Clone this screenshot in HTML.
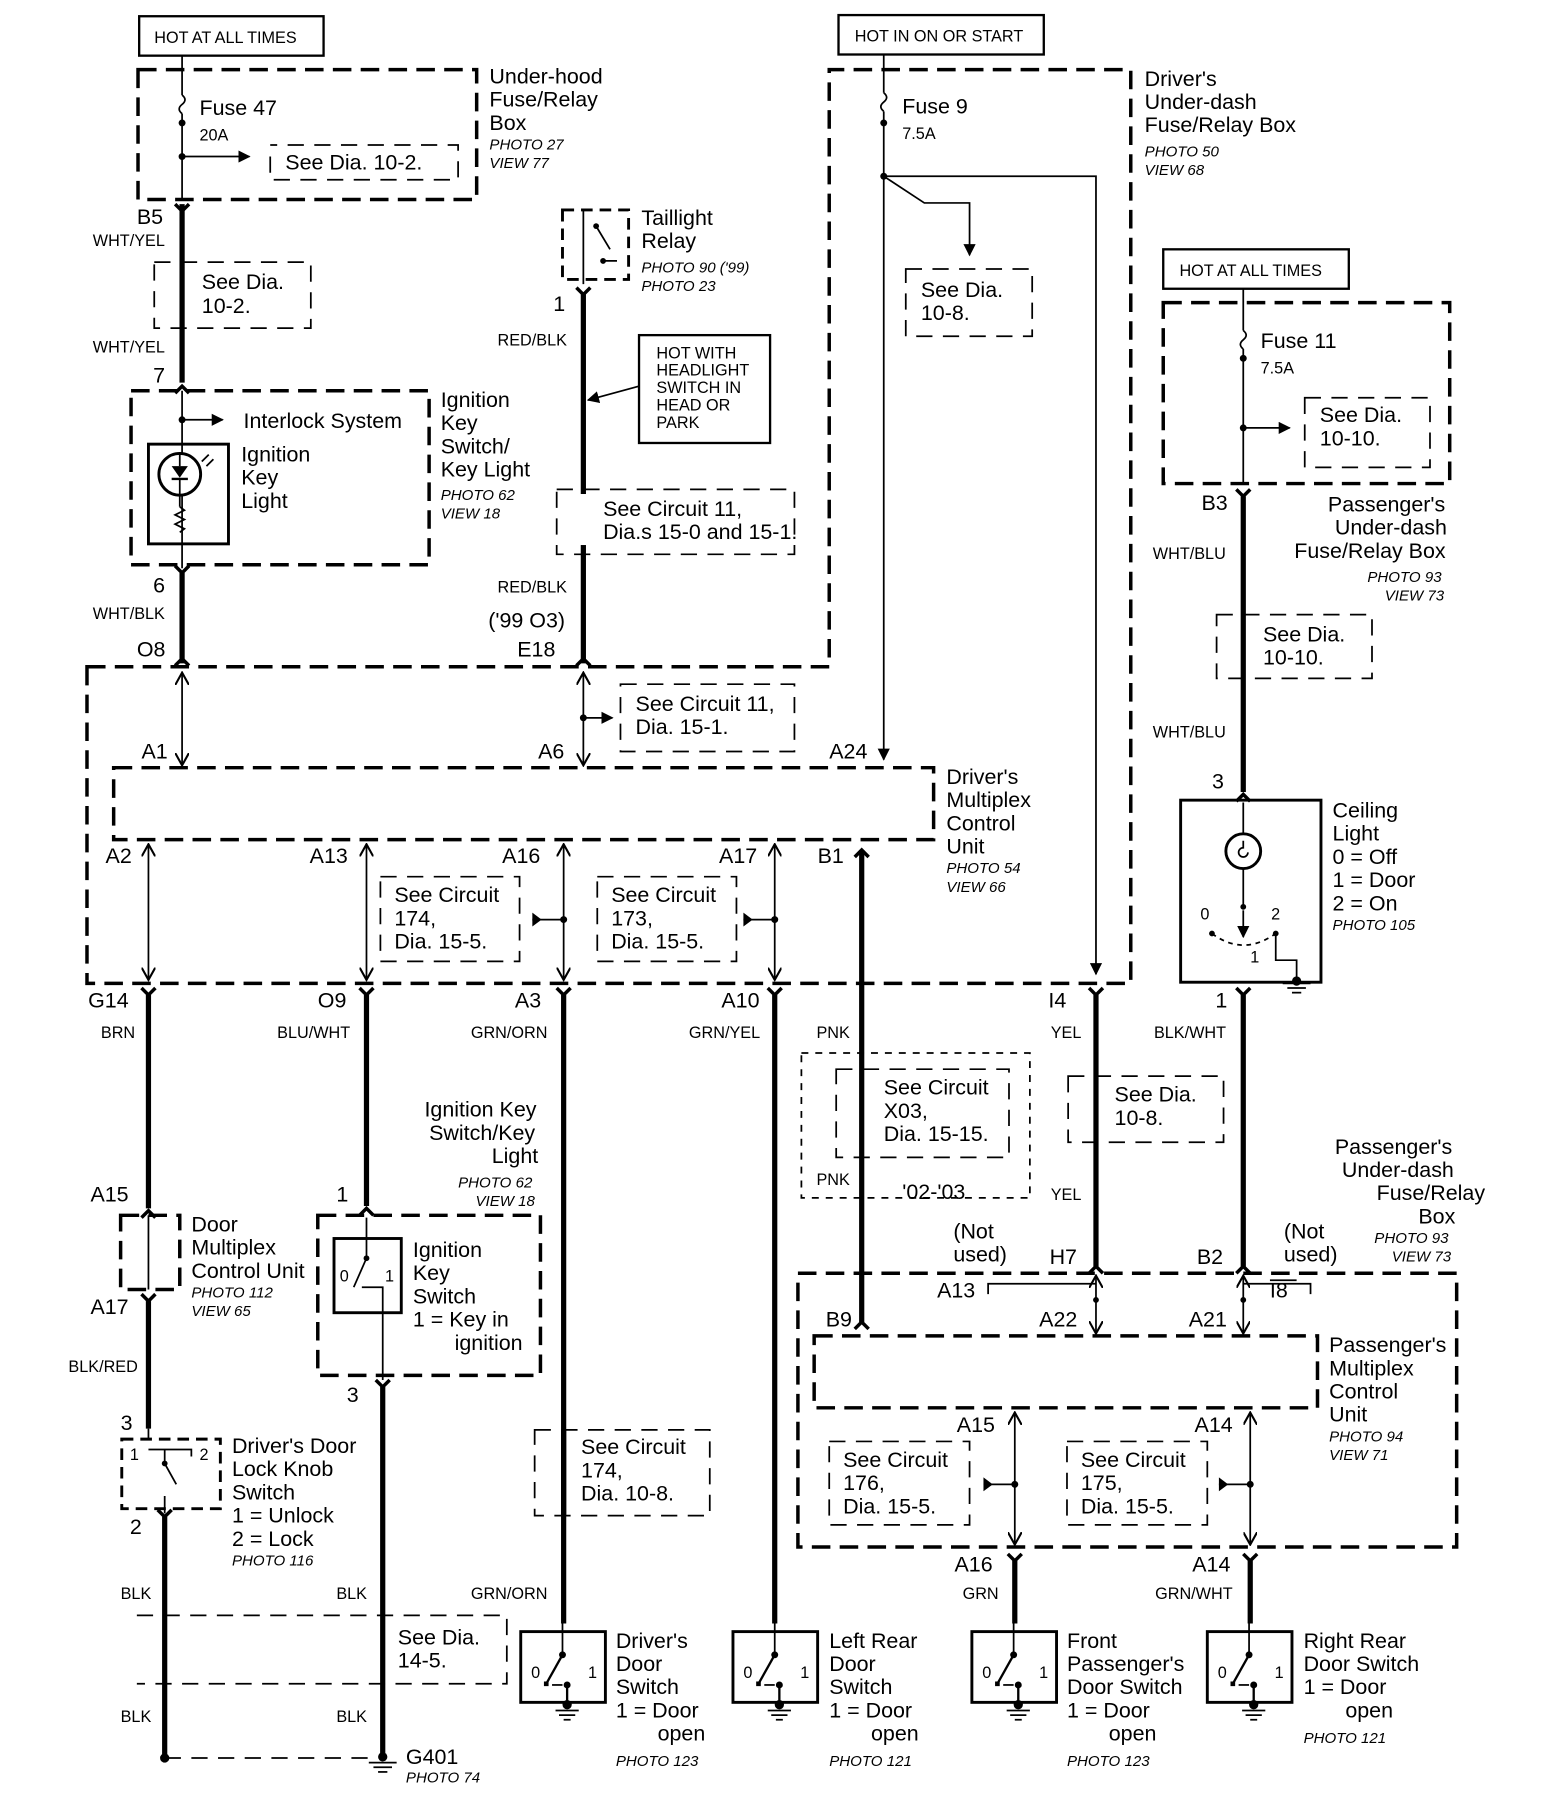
<!DOCTYPE html>
<html><head><meta charset="utf-8"><style>
html,body{margin:0;padding:0;background:#fff}
svg{display:block}
text{font-family:"Liberation Sans",Arial,sans-serif;fill:#000}
.l{font-size:18.5px}
.s{font-size:14px}
.i{font-size:13px;font-style:italic}
.tw{stroke:#000;stroke-width:4.5;fill:none}
.tn{stroke:#000;stroke-width:1.5;fill:none}
.db{stroke:#000;stroke-width:3;fill:none;stroke-dasharray:16,8}
.dt{stroke:#000;stroke-width:1.5;fill:none;stroke-dasharray:14,9}
.sb{stroke:#000;stroke-width:2.5;fill:#fff}
</style></head><body>
<svg width="1568" height="1816" viewBox="0 0 1352 1566" preserveAspectRatio="none" xmlns="http://www.w3.org/2000/svg">
<defs>
<marker id="ah" viewBox="0 0 10 10" refX="9" refY="5" markerWidth="7" markerHeight="7" orient="auto"><path d="M0,0L10,5L0,10z"/></marker>
<marker id="oa" viewBox="0 0 10 10" refX="9" refY="5" markerWidth="8" markerHeight="8" orient="auto-start-reverse"><path d="M0,0L9,5L0,10" fill="none" stroke="#000" stroke-width="1.5"/></marker>
<g id="dsw">
<rect x="0" y="0" width="73" height="61" class="sb" style="fill:none"/>
<line x1="36" y1="-8" x2="36" y2="20" class="tn"/>
<circle cx="36" cy="20" r="3"/>
<line x1="36" y1="20" x2="22" y2="45" stroke="#000" stroke-width="2"/>
<rect x="20" y="43" width="4" height="4"/>
<line x1="27" y1="46" x2="36" y2="46" class="tn"/>
<circle cx="40" cy="46" r="3"/>
<line x1="40" y1="46" x2="40" y2="64" stroke="#000" stroke-width="2"/>
<circle cx="40" cy="63" r="4"/>
<line x1="30" y1="68" x2="50" y2="68" class="tn"/>
<line x1="33" y1="72" x2="47" y2="72" class="tn"/>
<line x1="37" y1="76" x2="43" y2="76" class="tn"/>
<text x="9" y="40" class="s">0</text><text x="58" y="40" class="s">1</text>
</g>
<g id="conn"><path d="M-6,-6L0,0L6,-6" fill="none" stroke="#000" stroke-width="3"/></g>
<g id="connu"><path d="M-6,6L0,0L6,6" fill="none" stroke="#000" stroke-width="3"/></g>
</defs>

<!-- TOP LEFT -->
<rect x="120" y="14" width="159" height="34" class="sb" style="stroke-width:2"/>
<text x="133" y="37" class="s">HOT AT ALL TIMES</text>
<rect x="119" y="60" width="292" height="112" class="db"/>
<line x1="157" y1="48" x2="157" y2="82" class="tn"/>
<path d="M157,82 q5,4 0,8 q-5,4 0,8" class="tn"/>
<line x1="157" y1="98" x2="157" y2="172" class="tn"/>
<circle cx="157" cy="106" r="3"/><circle cx="157" cy="135" r="3"/>
<line x1="157" y1="135" x2="215" y2="135" class="tn" marker-end="url(#ah)"/>
<text x="172" y="99" class="l">Fuse 47</text>
<text x="172" y="121" class="s">20A</text>
<path d="M233,135V155H395V125H233" class="dt"/>
<text x="246" y="146" class="l">See Dia.  10-2.</text>
<text x="422" y="72" class="l">Under-hood</text><text x="422" y="92" class="l">Fuse/Relay</text><text x="422" y="112" class="l">Box</text>
<text x="422" y="129" class="i">PHOTO 27</text><text x="422" y="145" class="i">VIEW 77</text>

<line x1="157" y1="176" x2="157" y2="330" class="tw"/>
<use href="#conn" x="157" y="182"/>
<text x="118" y="193" class="l">B5</text>
<text x="80" y="212" class="s">WHT/YEL</text>
<path d="M133,226H268V283H133Z" class="dt"/>
<text x="174" y="249" class="l">See Dia.</text><text x="174" y="270" class="l">10-2.</text>
<text x="80" y="304" class="s">WHT/YEL</text>
<text x="132" y="330" class="l">7</text>
<use href="#connu" x="157" y="333"/>
<rect x="113" y="337" width="257" height="150" class="db"/>
<line x1="157" y1="337" x2="157" y2="490" class="tn"/>
<circle cx="157" cy="362" r="3"/>
<line x1="157" y1="362" x2="192" y2="362" class="tn" marker-end="url(#ah)"/>
<text x="210" y="369" class="l">Interlock System</text>
<rect x="128" y="383" width="69" height="86" class="sb" style="fill:none"/>
<circle cx="155" cy="409" r="18" stroke="#000" stroke-width="2.5" fill="#fff"/>
<path d="M148,402H162L155,412Z"/><line x1="148" y1="413" x2="162" y2="413" stroke="#000" stroke-width="2"/>
<line x1="155" y1="390" x2="155" y2="402" class="tn"/><line x1="155" y1="413" x2="155" y2="437" class="tn"/>
<path d="M155,437 l4,3 l-8,4 l8,4 l-8,4 l8,4 l-4,3" class="tn"/>
<path d="M174,398l6,-6M178,402l6,-6" class="tn"/>
<text x="208" y="398" class="l">Ignition</text><text x="208" y="418" class="l">Key</text><text x="208" y="438" class="l">Light</text>
<text x="380" y="351" class="l">Ignition</text><text x="380" y="371" class="l">Key</text><text x="380" y="391" class="l">Switch/</text><text x="380" y="411" class="l">Key Light</text>
<text x="380" y="431" class="i">PHOTO 62</text><text x="380" y="447" class="i">VIEW 18</text>
<use href="#conn" x="157" y="494"/>
<line x1="157" y1="494" x2="157" y2="572" class="tw"/>
<text x="132" y="511" class="l">6</text>
<text x="80" y="534" class="s">WHT/BLK</text>
<text x="118" y="566" class="l">O8</text>
<use href="#connu" x="157" y="568"/>

<!-- Taillight relay -->
<rect x="485" y="181" width="57" height="60" class="db" style="stroke-width:2.5;stroke-dasharray:10,6"/>
<line x1="503" y1="181" x2="503" y2="245" class="tn"/>
<path d="M514,195L526,215M520,225h12" class="tn"/><circle cx="514" cy="195" r="2.5"/><circle cx="520" cy="225" r="2.5"/>
<text x="553" y="194" class="l">Taillight</text><text x="553" y="214" class="l">Relay</text>
<text x="553" y="235" class="i">PHOTO 90  ('99)</text><text x="553" y="251" class="i">PHOTO 23</text>
<text x="477" y="268" class="l">1</text>
<use href="#conn" x="503" y="254"/>
<line x1="503" y1="254" x2="503" y2="572" class="tw"/>
<text x="429" y="298" class="s">RED/BLK</text>
<rect x="551" y="289" width="113" height="93" class="sb" style="stroke-width:2"/>
<text x="566" y="309" class="s">HOT WITH</text><text x="566" y="324" class="s">HEADLIGHT</text><text x="566" y="339" class="s">SWITCH IN</text><text x="566" y="354" class="s">HEAD OR</text><text x="566" y="369" class="s">PARK</text>
<line x1="551" y1="333" x2="507" y2="345" class="tn" marker-end="url(#ah)"/>
<path d="M480,422H685V478H480Z" class="dt"/>
<rect x="498" y="426" width="186" height="44" fill="#fff"/>
<text x="520" y="445" class="l">See Circuit 11,</text><text x="520" y="465" class="l">Dia.s 15-0 and 15-1.</text>
<text x="429" y="511" class="s">RED/BLK</text>
<text x="421" y="541" class="l">('99 O3)</text>
<text x="446" y="566" class="l">E18</text>
<use href="#connu" x="503" y="568"/>

<!-- Driver underdash -->
<rect x="723" y="13" width="177" height="34" class="sb" style="stroke-width:2"/>
<text x="737" y="36" class="s">HOT IN ON OR START</text>
<line x1="762" y1="47" x2="762" y2="80" class="tn"/>
<path d="M762,80 q5,4 0,8 q-5,4 0,8" class="tn"/>
<line x1="762" y1="96" x2="762" y2="655" class="tn" marker-end="url(#ah)"/>
<circle cx="762" cy="106" r="3"/><circle cx="762" cy="152" r="3"/>
<text x="778" y="98" class="l">Fuse 9</text><text x="778" y="120" class="s">7.5A</text>
<path d="M762,152L797,175H836V220" class="tn" marker-end="url(#ah)"/>
<path d="M781,232H890V290H781Z" class="dt"/>
<text x="794" y="256" class="l">See Dia.</text><text x="794" y="276" class="l">10-8.</text>
<path d="M762,152H945V840" class="tn" marker-end="url(#ah)"/>
<text x="987" y="74" class="l">Driver's</text><text x="987" y="94" class="l">Under-dash</text><text x="987" y="114" class="l">Fuse/Relay Box</text>
<text x="987" y="135" class="i">PHOTO 50</text><text x="987" y="151" class="i">VIEW 68</text>

<!-- big driver dashed outline -->
<path d="M75,575H715V60H975V848H75Z" class="db"/>
<line x1="157" y1="580" x2="157" y2="660" class="tn" marker-start="url(#oa)" marker-end="url(#oa)"/>
<line x1="503" y1="580" x2="503" y2="660" class="tn" marker-start="url(#oa)" marker-end="url(#oa)"/>
<circle cx="503" cy="619" r="3"/>
<line x1="503" y1="619" x2="528" y2="619" class="tn" marker-end="url(#ah)"/>
<path d="M535,590H685V648H535Z" class="dt"/>
<text x="548" y="613" class="l">See Circuit 11,</text><text x="548" y="633" class="l">Dia. 15-1.</text>
<text x="122" y="654" class="l">A1</text><text x="464" y="654" class="l">A6</text><text x="715" y="654" class="l">A24</text>
<rect x="98" y="662" width="707" height="62" class="db"/>
<text x="816" y="676" class="l">Driver's</text><text x="816" y="696" class="l">Multiplex</text><text x="816" y="716" class="l">Control</text><text x="816" y="736" class="l">Unit</text>
<text x="816" y="753" class="i">PHOTO 54</text><text x="816" y="769" class="i">VIEW 66</text>
<text x="91" y="744" class="l">A2</text><text x="267" y="744" class="l">A13</text><text x="433" y="744" class="l">A16</text><text x="620" y="744" class="l">A17</text><text x="705" y="744" class="l">B1</text>
<line x1="128" y1="728" x2="128" y2="845" class="tn" marker-start="url(#oa)" marker-end="url(#oa)"/>
<line x1="316" y1="728" x2="316" y2="845" class="tn" marker-start="url(#oa)" marker-end="url(#oa)"/>
<line x1="486" y1="728" x2="486" y2="845" class="tn" marker-start="url(#oa)" marker-end="url(#oa)"/>
<line x1="668" y1="728" x2="668" y2="845" class="tn" marker-start="url(#oa)" marker-end="url(#oa)"/>
<circle cx="486" cy="793" r="3"/><circle cx="668" cy="793" r="3"/>
<line x1="459" y1="793" x2="486" y2="793" class="tn"/><path d="M459,787v12l8,-6z"/>
<line x1="641" y1="793" x2="668" y2="793" class="tn"/><path d="M641,787v12l8,-6z"/>
<path d="M328,756H448V829H328Z" class="dt"/>
<text x="340" y="778" class="l">See Circuit</text><text x="340" y="798" class="l">174,</text><text x="340" y="818" class="l">Dia.  15-5.</text>
<path d="M515,756H635V829H515Z" class="dt"/>
<text x="527" y="778" class="l">See Circuit</text><text x="527" y="798" class="l">173,</text><text x="527" y="818" class="l">Dia.  15-5.</text>
<use href="#connu" x="743" y="733"/>
<line x1="743" y1="733" x2="743" y2="1140" class="tw"/>

<!-- bottom connectors of driver MCU -->
<text x="76" y="869" class="l">G14</text><text x="274" y="869" class="l">O9</text><text x="444" y="869" class="l">A3</text><text x="622" y="869" class="l">A10</text><text x="904" y="869" class="l">I4</text>
<use href="#conn" x="128" y="858"/><use href="#conn" x="316" y="858"/><use href="#conn" x="486" y="858"/><use href="#conn" x="668" y="858"/><use href="#conn" x="945" y="858"/>
<text x="87" y="895" class="s">BRN</text><text x="239" y="895" class="s">BLU/WHT</text><text x="406" y="895" class="s">GRN/ORN</text><text x="594" y="895" class="s">GRN/YEL</text><text x="704" y="895" class="s">PNK</text><text x="906" y="895" class="s">YEL</text>

<line x1="128" y1="858" x2="128" y2="1042" class="tw"/>
<text x="78" y="1036" class="l">A15</text>
<use href="#connu" x="128" y="1044"/>
<rect x="104" y="1048" width="51" height="64" class="db"/>
<line x1="128" y1="1048" x2="128" y2="1112" class="tn"/>
<text x="165" y="1062" class="l">Door</text><text x="165" y="1082" class="l">Multiplex</text><text x="165" y="1102" class="l">Control Unit</text>
<text x="165" y="1119" class="i">PHOTO 112</text><text x="165" y="1135" class="i">VIEW 65</text>
<text x="78" y="1133" class="l">A17</text>
<use href="#conn" x="128" y="1122"/>
<line x1="128" y1="1122" x2="128" y2="1232" class="tw"/>
<text x="59" y="1183" class="s">BLK/RED</text>
<text x="104" y="1233" class="l">3</text>
<rect x="105" y="1241" width="85" height="60" class="db" style="stroke-width:2.5;stroke-dasharray:10,6"/>
<path d="M128,1232V1241M142,1250V1262L152,1280M142,1290V1305" class="tn"/><circle cx="142" cy="1262" r="2.5"/>
<text x="112" y="1259" class="s">1</text><text x="172" y="1259" class="s">2</text>
<path d="M128,1250H165V1256" class="tn"/>
<text x="200" y="1253" class="l">Driver's Door</text><text x="200" y="1273" class="l">Lock Knob</text><text x="200" y="1293" class="l">Switch</text><text x="200" y="1313" class="l">1 =  Unlock</text><text x="200" y="1333" class="l">2 =  Lock</text>
<text x="200" y="1350" class="i">PHOTO 116</text>
<text x="112" y="1323" class="l">2</text>
<use href="#conn" x="142" y="1308"/>
<line x1="142" y1="1308" x2="142" y2="1516" class="tw"/>
<text x="104" y="1379" class="s">BLK</text><text x="104" y="1485" class="s">BLK</text>
<text x="290" y="1379" class="s">BLK</text><text x="290" y="1485" class="s">BLK</text>
<path d="M118,1393H437V1452H118" class="dt"/>
<text x="343" y="1418" class="l">See Dia.</text><text x="343" y="1438" class="l">14-5.</text>
<circle cx="142" cy="1516" r="4"/>
<line x1="142" y1="1516" x2="320" y2="1516" class="dt"/>

<line x1="316" y1="858" x2="316" y2="1040" class="tw"/>
<text x="366" y="963" class="l">Ignition Key</text><text x="370" y="983" class="l">Switch/Key</text><text x="424" y="1003" class="l">Light</text>
<text x="395" y="1024" class="i">PHOTO 62</text><text x="410" y="1040" class="i">VIEW 18</text>
<text x="290" y="1036" class="l">1</text>
<use href="#connu" x="316" y="1042"/>
<rect x="274" y="1048" width="192" height="138" class="db"/>
<rect x="288" y="1068" width="58" height="64" class="sb" style="fill:none"/>
<line x1="316" y1="1050" x2="316" y2="1085" class="tn"/>
<path d="M316,1085L305,1110M312,1110H330V1190" class="tn"/><circle cx="316" cy="1085" r="2.5"/>
<text x="293" y="1105" class="s">0</text><text x="332" y="1105" class="s">1</text>
<text x="356" y="1084" class="l">Ignition</text><text x="356" y="1104" class="l">Key</text><text x="356" y="1124" class="l">Switch</text><text x="356" y="1144" class="l">1 =  Key in</text><text x="392" y="1164" class="l">ignition</text>
<text x="299" y="1209" class="l">3</text>
<use href="#conn" x="330" y="1196"/>
<line x1="330" y1="1196" x2="330" y2="1512" class="tw"/>
<line x1="318" y1="1520" x2="342" y2="1520" class="tn"/><line x1="322" y1="1524" x2="338" y2="1524" class="tn"/><line x1="326" y1="1528" x2="334" y2="1528" class="tn"/>
<circle cx="330" cy="1515" r="4"/>
<text x="350" y="1521" class="l">G401</text><text x="350" y="1537" class="i">PHOTO 74</text>

<line x1="486" y1="858" x2="486" y2="1400" class="tw"/>
<path d="M461,1233H612V1307H461Z" class="dt"/>
<rect x="490" y="1237" width="120" height="66" fill="#fff"/>
<line x1="486" y1="1233" x2="486" y2="1307" class="tw"/>
<text x="501" y="1254" class="l">See Circuit</text><text x="501" y="1274" class="l">174,</text><text x="501" y="1294" class="l">Dia.  10-8.</text>
<text x="406" y="1379" class="s">GRN/ORN</text>
<use href="#dsw" x="449" y="1407"/>
<text x="531" y="1421" class="l">Driver's</text><text x="531" y="1441" class="l">Door</text><text x="531" y="1461" class="l">Switch</text><text x="531" y="1481" class="l">1 =  Door</text><text x="567" y="1501" class="l">open</text>
<text x="531" y="1523" class="i">PHOTO 123</text>

<line x1="668" y1="858" x2="668" y2="1400" class="tw"/>
<use href="#dsw" x="632" y="1407"/>
<text x="715" y="1421" class="l">Left Rear</text><text x="715" y="1441" class="l">Door</text><text x="715" y="1461" class="l">Switch</text><text x="715" y="1481" class="l">1 =  Door</text><text x="751" y="1501" class="l">open</text>
<text x="715" y="1523" class="i">PHOTO 121</text>

<path d="M691,908H888V1033H691Z" class="dt" style="stroke-dasharray:6,6"/>
<path d="M721,922H870V998H721Z" class="dt"/>
<text x="762" y="944" class="l">See Circuit</text><text x="762" y="964" class="l">X03,</text><text x="762" y="984" class="l">Dia. 15-15.</text>
<text x="704" y="1022" class="s">PNK</text>
<text x="778" y="1034" class="l">'02-'03</text>

<line x1="945" y1="858" x2="945" y2="1092" class="tw"/>
<path d="M921,928H1055V985H921Z" class="dt"/>
<rect x="950" y="932" width="100" height="48" fill="#fff"/>
<text x="961" y="950" class="l">See Dia.</text><text x="961" y="970" class="l">10-8.</text>
<text x="906" y="1035" class="s">YEL</text>

<!-- Right upper -->
<rect x="1003" y="215" width="160" height="34" class="sb" style="stroke-width:2"/>
<text x="1017" y="238" class="s">HOT AT ALL TIMES</text>
<rect x="1003" y="261" width="247" height="156" class="db"/>
<line x1="1072" y1="249" x2="1072" y2="285" class="tn"/>
<path d="M1072,285 q5,4 0,8 q-5,4 0,8" class="tn"/>
<line x1="1072" y1="301" x2="1072" y2="417" class="tn"/>
<circle cx="1072" cy="309" r="3"/><circle cx="1072" cy="369" r="3"/>
<line x1="1072" y1="369" x2="1112" y2="369" class="tn" marker-end="url(#ah)"/>
<text x="1087" y="300" class="l">Fuse 11</text><text x="1087" y="322" class="s">7.5A</text>
<path d="M1125,343H1233V403H1125Z" class="dt"/>
<text x="1138" y="364" class="l">See Dia.</text><text x="1138" y="384" class="l">10-10.</text>
<use href="#conn" x="1072" y="428"/>
<line x1="1072" y1="428" x2="1072" y2="683" class="tw"/>
<text x="1036" y="440" class="l">B3</text>
<text x="1145" y="441" class="l">Passenger's</text><text x="1151" y="461" class="l">Under-dash</text><text x="1116" y="481" class="l">Fuse/Relay Box</text>
<text x="1179" y="502" class="i">PHOTO 93</text><text x="1194" y="518" class="i">VIEW 73</text>
<text x="994" y="482" class="s">WHT/BLU</text>
<path d="M1049,530H1183V585H1049Z" class="dt"/>
<rect x="1077" y="534" width="104" height="48" fill="#fff"/>
<text x="1089" y="553" class="l">See Dia.</text><text x="1089" y="573" class="l">10-10.</text>
<text x="994" y="636" class="s">WHT/BLU</text>
<text x="1045" y="680" class="l">3</text>
<use href="#connu" x="1072" y="685"/>
<rect x="1018" y="690" width="121" height="157" class="sb" style="fill:none"/>
<line x1="1072" y1="692" x2="1072" y2="718" class="tn"/>
<circle cx="1072" cy="734" r="15" stroke="#000" stroke-width="2.5" fill="#fff"/>
<path d="M1072,725v6a4,4 0 1 0 4,4" class="tn"/>
<line x1="1072" y1="749" x2="1072" y2="782" class="tn"/><circle cx="1072" cy="782" r="2.5"/>
<path d="M1045,805Q1072,825 1100,805" class="tn" stroke-dasharray="4,4"/>
<circle cx="1045" cy="805" r="2.5"/><circle cx="1100" cy="805" r="2.5"/>
<line x1="1072" y1="785" x2="1072" y2="808" class="tn" marker-end="url(#ah)"/>
<path d="M1100,805V828H1118V845" class="tn"/>
<text x="1035" y="793" class="s">0</text><text x="1096" y="793" class="s">2</text><text x="1078" y="830" class="s">1</text>
<line x1="1106" y1="848" x2="1130" y2="848" class="tn"/><line x1="1110" y1="852" x2="1126" y2="852" class="tn"/><line x1="1114" y1="856" x2="1122" y2="856" class="tn"/>
<circle cx="1118" cy="846" r="4"/>
<text x="1149" y="705" class="l">Ceiling</text><text x="1149" y="725" class="l">Light</text><text x="1149" y="745" class="l">0 =  Off</text><text x="1149" y="765" class="l">1 =  Door</text><text x="1149" y="785" class="l">2 =  On</text>
<text x="1149" y="802" class="i">PHOTO 105</text>
<text x="1048" y="869" class="l">1</text>
<use href="#conn" x="1072" y="858"/>
<line x1="1072" y1="858" x2="1072" y2="1092" class="tw"/>
<text x="995" y="895" class="s">BLK/WHT</text>
<text x="1151" y="995" class="l">Passenger's</text><text x="1157" y="1015" class="l">Under-dash</text><text x="1187" y="1035" class="l">Fuse/Relay</text><text x="1223" y="1055" class="l">Box</text>
<text x="1185" y="1072" class="i">PHOTO 93</text><text x="1200" y="1088" class="i">VIEW 73</text>

<!-- Passenger MCU -->
<text x="822" y="1068" class="l">(Not</text><text x="822" y="1088" class="l">used)</text>
<text x="1107" y="1068" class="l">(Not</text><text x="1107" y="1088" class="l">used)</text>
<text x="905" y="1090" class="l">H7</text><text x="1032" y="1090" class="l">B2</text>
<use href="#connu" x="945" y="1092"/><use href="#connu" x="1072" y="1092"/>
<rect x="688" y="1098" width="568" height="236" class="db"/>
<line x1="945" y1="1100" x2="945" y2="1150" class="tn" marker-start="url(#oa)" marker-end="url(#oa)"/>
<line x1="1072" y1="1100" x2="1072" y2="1150" class="tn" marker-start="url(#oa)" marker-end="url(#oa)"/>
<path d="M945,1107H852V1116" class="tn"/>
<path d="M1072,1107H1130V1116" class="tn"/>
<text x="808" y="1119" class="l">A13</text><text x="1095" y="1119" class="l">I8</text>
<line x1="1095" y1="1104" x2="1118" y2="1104" class="tn"/>
<circle cx="945" cy="1121" r="2.5"/><circle cx="1072" cy="1121" r="2.5"/>
<text x="712" y="1144" class="l">B9</text><text x="896" y="1144" class="l">A22</text><text x="1025" y="1144" class="l">A21</text>
<use href="#connu" x="743" y="1140"/>
<rect x="702" y="1152" width="434" height="62" class="db"/>
<text x="1146" y="1166" class="l">Passenger's</text><text x="1146" y="1186" class="l">Multiplex</text><text x="1146" y="1206" class="l">Control</text><text x="1146" y="1226" class="l">Unit</text>
<text x="1146" y="1243" class="i">PHOTO 94</text><text x="1146" y="1259" class="i">VIEW 71</text>
<text x="825" y="1235" class="l">A15</text><text x="1030" y="1235" class="l">A14</text>
<line x1="875" y1="1218" x2="875" y2="1332" class="tn" marker-start="url(#oa)" marker-end="url(#oa)"/>
<line x1="1078" y1="1218" x2="1078" y2="1332" class="tn" marker-start="url(#oa)" marker-end="url(#oa)"/>
<circle cx="875" cy="1280" r="3"/><circle cx="1078" cy="1280" r="3"/>
<line x1="848" y1="1280" x2="875" y2="1280" class="tn"/><path d="M848,1274v12l8,-6z"/>
<line x1="1051" y1="1280" x2="1078" y2="1280" class="tn"/><path d="M1051,1274v12l8,-6z"/>
<path d="M715,1243H836V1315H715Z" class="dt"/>
<text x="727" y="1265" class="l">See Circuit</text><text x="727" y="1285" class="l">176,</text><text x="727" y="1305" class="l">Dia.  15-5.</text>
<path d="M920,1243H1041V1315H920Z" class="dt"/>
<text x="932" y="1265" class="l">See Circuit</text><text x="932" y="1285" class="l">175,</text><text x="932" y="1305" class="l">Dia.  15-5.</text>
<text x="823" y="1355" class="l">A16</text><text x="1028" y="1355" class="l">A14</text>
<use href="#conn" x="875" y="1346"/><use href="#conn" x="1078" y="1346"/>
<line x1="875" y1="1346" x2="875" y2="1400" class="tw"/>
<line x1="1078" y1="1346" x2="1078" y2="1400" class="tw"/>
<text x="830" y="1379" class="s">GRN</text><text x="996" y="1379" class="s">GRN/WHT</text>
<use href="#dsw" x="838" y="1407"/>
<text x="920" y="1421" class="l">Front</text><text x="920" y="1441" class="l">Passenger's</text><text x="920" y="1461" class="l">Door Switch</text><text x="920" y="1481" class="l">1 =  Door</text><text x="956" y="1501" class="l">open</text>
<text x="920" y="1523" class="i">PHOTO 123</text>
<use href="#dsw" x="1041" y="1407"/>
<text x="1124" y="1421" class="l">Right Rear</text><text x="1124" y="1441" class="l">Door Switch</text><text x="1124" y="1461" class="l">1 =  Door</text><text x="1160" y="1481" class="l">open</text>
<text x="1124" y="1503" class="i">PHOTO 121</text>
</svg>
</body></html>
